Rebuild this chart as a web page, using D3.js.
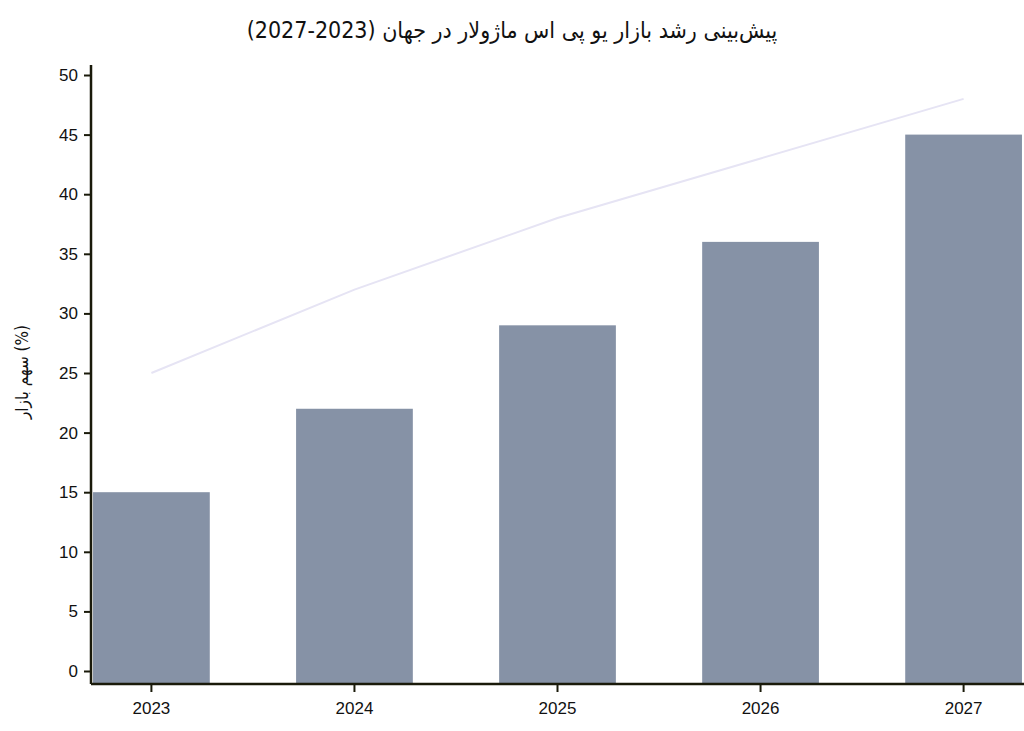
<!DOCTYPE html>
<html><head><meta charset="utf-8">
<script src="https://cdn.jsdelivr.net/npm/d3@7"></script>
<style>body{margin:0;background:#fff}</style>
</head><body><div id="chart"></div>
<script>
const years = ['2023', '2024', '2025', '2026', '2027'];
const barValues = [15, 22, 29, 36, 45];
const lineValues = [25, 32, 38, 43, 48];
const yTicks = [0, 5, 10, 15, 20, 25, 30, 35, 40, 45, 50];

const W = 1024, H = 731;
const m = { top: 65, right: 0, bottom: 47, left: 91 };
const svg = d3.select('#chart').append('svg').attr('width', W).attr('height', H)
    .style('font-family', '"DejaVu Sans Condensed", "DejaVu Sans", sans-serif');

const x = d3.scaleBand().domain(years).range([m.left, W - m.right])
    .paddingInner(0.425).paddingOuter(0.01);
const y = d3.scaleLinear().domain([-1.1, 50]).range([H - m.bottom, 75 + (50 - 50) ]);
// fix 0 -> 671, 50 -> 75
y.domain([0, 50]).range([671, 75]);
const yBottom = H - m.bottom;

svg.selectAll('.bar').data(barValues).join('rect')
    .attr('x', (d, i) => x(years[i]))
    .attr('width', x.bandwidth())
    .attr('y', d => y(d))
    .attr('height', d => yBottom - y(d))
    .attr('fill', '#8692a6');

svg.append('path').datum(lineValues)
    .attr('fill', 'none').attr('stroke', '#e6e4f4').attr('stroke-width', 2)
    .attr('d', d3.line().x((d, i) => x(years[i]) + x.bandwidth() / 2).y(d => y(d)));

const yAxis = svg.append('g').attr('transform', `translate(${m.left},0)`)
    .call(d3.axisLeft(y).tickValues(yTicks).tickSize(7).tickPadding(6));
yAxis.select('.domain').attr('d', `M0,${m.top}V${yBottom}`);
const xAxis = svg.append('g').attr('transform', `translate(0,${yBottom})`)
    .call(d3.axisBottom(x).tickSize(8).tickPadding(10));
xAxis.select('.domain').attr('d', `M${m.left},0H${W}`);
svg.selectAll('.domain').attr('stroke', '#1a1a0a').attr('stroke-width', 2.5);
svg.selectAll('.tick line').attr('stroke', '#1a1a0a').attr('stroke-width', 2);
svg.selectAll('.tick text').attr('fill', '#111').style('font-size', '17px');

svg.append('text').attr('x', 512).attr('y', 38).attr('text-anchor', 'middle')
    .style('font-size', '23px').attr('fill', '#111')
    .text('پیش‌بینی رشد بازار یو پی اس ماژولار در جهان (2023-2027)');

svg.append('text').attr('transform', 'translate(28,372) rotate(-90)')
    .attr('text-anchor', 'middle').style('font-size', '17px').attr('fill', '#111')
    .text('سهم بازار (%)');
</script></body></html>
